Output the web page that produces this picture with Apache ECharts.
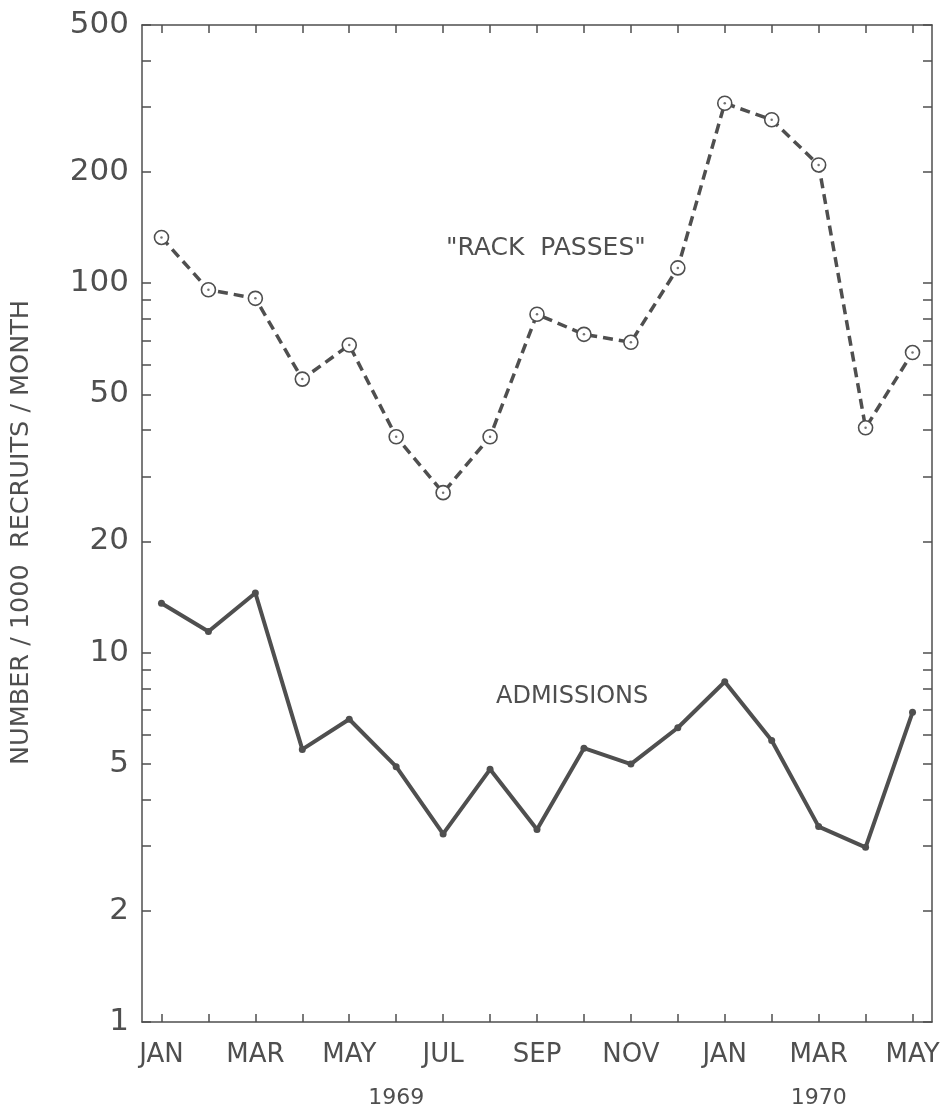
<!DOCTYPE html>
<html>
<head>
<meta charset="utf-8">
<title>Rack passes and admissions</title>
<script src="https://cdn.jsdelivr.net/npm/echarts@6/dist/echarts.min.js"></script>
<style>
  html, body { margin: 0; padding: 0; background: #fff; }
  #chart { width: 948px; height: 1118px; }
</style>
</head>
<body>
<div id="chart"></div>
<script>
// month index 0 = Jan 1969 ... 16 = May 1970
const months = ['JAN', 'FEB', 'MAR', 'APR', 'MAY', 'JUN', 'JUL', 'AUG', 'SEP', 'OCT', 'NOV', 'DEC',
                'JAN', 'FEB', 'MAR', 'APR', 'MAY'];
const rackPasses = [133, 96, 91, 55, 68, 38.4, 27.1, 38.4, 82.4, 72.7, 69.2, 110, 307, 277, 209, 40.6, 64.9];
const admissions = [13.6, 11.4, 14.5, 5.47, 6.6, 4.91, 3.23, 4.83, 3.32, 5.51, 4.99, 6.26, 8.34, 5.78, 3.38, 2.97, 6.89];

const yLabels = [1, 2, 5, 10, 20, 50, 100, 200, 500];
const yTicks = [1, 2, 3, 4, 5, 6, 7, 8, 9, 10, 20, 30, 40, 50, 60, 70, 80, 90, 100, 200, 300, 400, 500];
const monthTicks = months.map((m, i) => i);
const monthLabelPos = [0, 2, 4, 6, 8, 10, 12, 14, 16];
const yearPos = [5, 14];
const yearLabels = ['1969', '1970'];

const ink = '#4f4f4f';
const font = 'DejaVu Sans';

const chart = echarts.init(document.getElementById('chart'));

const xBase = {
  type: 'value',
  min: -0.415,
  max: 16.415,
  splitLine: { show: false },
  axisLine: { show: true, onZero: false, lineStyle: { color: ink, width: 1.5 } },
  axisTick: { show: true, inside: true, length: 8, customValues: monthTicks, lineStyle: { color: ink, width: 1.5 } }
};
const yBase = {
  type: 'log',
  logBase: 10,
  min: 1,
  max: 500,
  splitLine: { show: false },
  axisLine: { show: true, onZero: false, lineStyle: { color: ink, width: 1.5 } },
  axisTick: { show: true, inside: true, length: 9, customValues: yTicks, lineStyle: { color: ink, width: 1.5 } }
};

chart.setOption({
  animation: false,
  backgroundColor: '#fff',
  grid: { left: 141, right: 16, top: 25, bottom: 96, containLabel: false },
  xAxis: [
    Object.assign({}, xBase, {
      position: 'bottom',
      axisLabel: {
        customValues: monthLabelPos,
        formatter: v => months[Math.round(v)],
        color: ink, fontFamily: font, fontSize: 26, margin: 20
      }
    }),
    Object.assign({}, xBase, {
      position: 'top',
      axisLabel: { show: false }
    }),
    {
      type: 'value', min: -0.415, max: 16.415, position: 'bottom', offset: 50,
      splitLine: { show: false }, axisLine: { show: false, onZero: false }, axisTick: { show: false },
      axisLabel: {
        customValues: yearPos,
        formatter: v => yearLabels[yearPos.indexOf(Math.round(v))],
        color: ink, fontFamily: font, fontSize: 22, margin: 15
      }
    }
  ],
  yAxis: [
    Object.assign({}, yBase, {
      position: 'left',
      name: 'NUMBER / 1000  RECRUITS / MONTH',
      nameLocation: 'middle',
      nameGap: 108,
      nameTextStyle: { color: ink, fontFamily: font, fontSize: 25.5, padding: [0, 18, 0, 0] },
      axisLabel: {
        customValues: yLabels,
        color: ink, fontFamily: font, fontSize: 31, margin: 13
      }
    }),
    Object.assign({}, yBase, {
      position: 'right',
      axisLabel: { show: false }
    })
  ],
  graphic: [
    { type: 'text', left: 446, top: 236,
      style: { text: '"RACK  PASSES"', fill: ink, font: '25px "DejaVu Sans"' } },
    { type: 'text', left: 496, top: 685,
      style: { text: 'ADMISSIONS', fill: ink, font: '24px "DejaVu Sans"' } }
  ],
  series: [
    {
      name: 'Rack passes',
      type: 'line',
      data: rackPasses.map((v, i) => [i, v]),
      symbol: 'circle',
      symbolSize: 14,
      itemStyle: { color: '#fff', borderColor: ink, borderWidth: 1.6 },
      lineStyle: { color: ink, width: 3.5, type: [10, 6] },
      z: 3
    },
    {
      name: 'Rack passes centre',
      type: 'scatter',
      data: rackPasses.map((v, i) => [i, v]),
      symbol: 'circle',
      symbolSize: 2.5,
      itemStyle: { color: ink },
      z: 4
    },
    {
      name: 'Admissions',
      type: 'line',
      data: admissions.map((v, i) => [i, v]),
      symbol: 'circle',
      symbolSize: 7,
      itemStyle: { color: ink },
      lineStyle: { color: ink, width: 4 },
      z: 3
    }
  ]
});
</script>
</body>
</html>
